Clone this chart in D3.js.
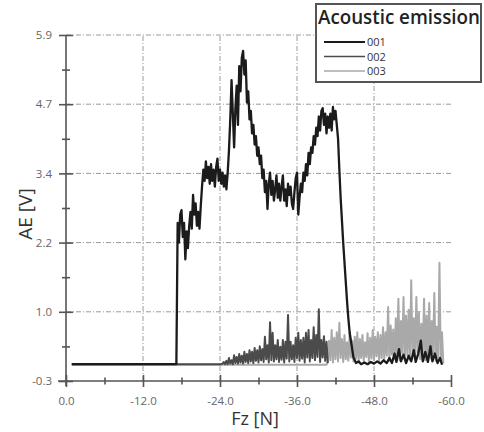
<!DOCTYPE html>
<html>
<head>
<meta charset="utf-8">
<script src="https://cdn.jsdelivr.net/npm/d3@7"></script>
<style>
  html, body { margin: 0; padding: 0; background: #fff; }
  svg { display: block; font-family: "Open Sans", "DejaVu Sans", sans-serif; }
</style>
</head>
<body>
<svg id="chart" width="484" height="432"></svg>
<script>
// Axis definitions
const xDomain = [0, -60];
const yDomain = [-0.27, 5.905];
const xTicks = [0, -12, -24, -36, -48, -60];
const xTickLabels = ["0.0", "-12.0", "-24.0", "-36.0", "-48.0", "-60.0"];
const xMinorTicks = [-6, -18, -30, -42, -54];
const yTicks = [-0.27, 0.965, 2.2, 3.435, 4.67, 5.905];
const yTickLabels = ["-0.3", "1.0", "2.2", "3.4", "4.7", "5.9"];
const yMinorTicks = [0.3475, 1.5825, 2.8175, 4.0525, 5.2875];

const seriesNames = ["001", "002", "003"];
const seriesColors = ["#1b1b1b", "#4b4b4b", "#a9a9a9"];
const seriesWidths = [2.3, 2, 2];

// Test 001: [Fz, AE]
const ae001 = [
  [-0.9,0.03],[-17.2,0.03],[-17.4,2.55],[-17.6,2.2],[-17.8,2.7],[-18.0,2.78],[-18.2,2.3],[-18.4,2.55],
  [-18.6,1.9],[-18.8,2.4],[-19.0,2.1],[-19.2,2.5],[-19.4,2.75],[-19.6,2.45],[-19.8,3.05],[-20.0,2.7],
  [-20.2,2.9],[-20.4,2.5],[-20.6,2.75],[-20.8,2.45],[-21.0,2.85],[-21.2,3.2],[-21.4,3.5],[-21.6,3.3],
  [-21.8,3.65],[-22.0,3.35],[-22.2,3.55],[-22.4,3.25],[-22.6,3.6],[-22.8,3.3],[-23.0,3.5],[-23.2,3.2],
  [-23.4,3.55],[-23.6,3.7],[-23.8,3.3],[-24.0,3.5],[-24.2,3.25],[-24.4,3.45],[-24.6,3.2],[-24.8,3.4],
  [-25.0,3.15],[-25.2,3.45],[-25.4,3.85],[-25.6,4.4],[-25.8,5.1],[-26.0,4.5],[-26.2,3.9],[-26.4,4.6],
  [-26.6,5.0],[-26.8,4.3],[-27.0,5.35],[-27.2,4.9],[-27.4,5.5],[-27.6,5.62],[-27.8,5.2],[-28.0,5.45],
  [-28.2,4.7],[-28.4,4.9],[-28.6,4.4],[-28.8,4.55],[-29.0,4.15],[-29.2,4.3],[-29.4,3.95],[-29.6,4.1],
  [-29.8,3.75],[-30.0,3.9],[-30.2,3.6],[-30.4,3.75],[-30.6,3.35],[-30.8,3.5],[-31.0,3.1],[-31.2,3.3],
  [-31.4,2.8],[-31.6,3.25],[-31.8,3.45],[-32.0,3.05],[-32.2,3.3],[-32.4,2.95],[-32.6,3.15],[-32.8,3.4],
  [-33.0,3.0],[-33.2,3.25],[-33.4,2.95],[-33.6,3.2],[-33.8,3.4],[-34.0,2.95],[-34.2,3.15],[-34.4,2.85],
  [-34.6,3.25],[-34.8,3.05],[-35.0,3.2],[-35.2,2.9],[-35.4,2.8],[-35.6,3.1],[-35.8,3.35],[-36.0,3.45],
  [-36.2,2.7],[-36.4,3.0],[-36.6,3.25],[-36.8,3.1],[-37.0,3.45],[-37.2,3.3],[-37.4,3.6],[-37.6,3.4],
  [-37.8,3.8],[-38.0,3.6],[-38.2,3.9],[-38.4,3.8],[-38.6,4.1],[-38.8,3.95],[-39.0,4.25],[-39.2,4.1],
  [-39.4,4.45],[-39.6,4.2],[-39.8,4.55],[-40.0,4.6],[-40.2,4.3],[-40.4,4.5],[-40.6,4.15],[-40.8,4.45],
  [-41.0,4.25],[-41.2,4.5],[-41.4,4.2],[-41.6,4.62],[-41.8,4.4],[-42.0,4.55],[-42.2,4.3],[-42.4,4.05],
  [-42.6,3.5],[-42.8,3.0],[-43.0,2.6],[-43.2,2.2],[-43.4,1.85],[-43.6,1.5],[-43.8,1.15],[-44.0,0.85],
  [-44.2,0.6],[-44.4,0.45],[-44.6,0.3],[-44.8,0.15],[-45.2,0.05],[-45.6,0.08],[-46.0,0.03],[-46.5,0.06],
  [-47.0,0.03],[-47.5,0.07],[-48.0,0.04],[-48.5,0.08],[-49.0,0.04],[-49.5,0.1],[-50.0,0.05],[-50.4,0.14],
  [-50.8,0.05],[-51.2,0.22],[-51.5,0.07],[-51.9,0.3],[-52.2,0.08],[-52.6,0.2],[-53.0,0.05],[-53.4,0.18],
  [-53.8,0.08],[-54.2,0.28],[-54.5,0.07],[-54.9,0.22],[-55.3,0.45],[-55.6,0.08],[-56.0,0.25],[-56.4,0.07],
  [-56.8,0.35],[-57.1,0.08],[-57.5,0.22],[-57.9,0.05],[-58.3,0.14],[-58.6,0.02]
];

// Test 002: [Fz, AE]
const ae002 = [
  [-0.9,0.03],[-24.2,0.03],[-24.4,0.04],[-24.6,0.07],[-24.8,0.03],[-25.0,0.09],[-25.2,0.03],[-25.4,0.14],
  [-25.6,0.04],[-25.8,0.1],[-26.0,0.03],[-26.2,0.19],[-26.4,0.05],[-26.6,0.16],[-26.8,0.04],[-27.0,0.21],
  [-27.2,0.06],[-27.4,0.18],[-27.6,0.04],[-27.8,0.25],[-28.0,0.07],[-28.2,0.21],[-28.4,0.05],[-28.6,0.28],
  [-28.8,0.08],[-29.0,0.25],[-29.2,0.05],[-29.4,0.32],[-29.6,0.09],[-29.8,0.28],[-30.0,0.06],[-30.2,0.35],
  [-30.4,0.1],[-30.6,0.3],[-30.8,0.07],[-31.0,0.52],[-31.2,0.12],[-31.4,0.37],[-31.6,0.06],[-31.8,0.78],
  [-32.0,0.1],[-32.2,0.59],[-32.4,0.08],[-32.6,0.37],[-32.8,0.12],[-33.0,0.46],[-33.2,0.07],[-33.4,0.34],
  [-33.6,0.11],[-33.8,0.46],[-34.0,0.06],[-34.2,0.43],[-34.4,0.13],[-34.6,0.91],[-34.8,0.08],[-35.0,0.43],
  [-35.2,0.12],[-35.4,0.37],[-35.6,0.07],[-35.8,0.5],[-36.0,0.14],[-36.2,0.59],[-36.4,0.09],[-36.6,0.46],
  [-36.8,0.13],[-37.0,0.5],[-37.2,0.06],[-37.4,0.59],[-37.6,0.15],[-37.8,0.64],[-38.0,0.08],[-38.2,0.46],
  [-38.4,0.14],[-38.6,0.69],[-38.8,0.1],[-39.0,0.55],[-39.2,0.16],[-39.4,1.01],[-39.6,0.07],[-39.8,0.46],
  [-40.0,0.15],[-40.2,0.53],[-40.4,0.09],[-40.6,0.43],[-40.8,0.05]
];

// Test 003: [Fz, AE]
const ae003 = [
  [-0.9,0.02],[-40.6,0.02],[-40.8,0.08],[-41.0,0.45],[-41.2,0.1],[-41.4,0.64],[-41.6,0.06],[-41.8,0.5],
  [-42.0,0.12],[-42.2,0.6],[-42.4,0.08],[-42.6,0.77],[-42.8,0.14],[-43.0,0.48],[-43.2,0.07],[-43.4,0.55],
  [-43.6,0.12],[-43.8,0.42],[-44.0,0.09],[-44.2,0.58],[-44.4,0.15],[-44.6,0.45],[-44.8,0.08],[-45.0,0.52],
  [-45.2,0.13],[-45.4,0.6],[-45.6,0.06],[-45.8,0.48],[-46.0,0.14],[-46.2,0.55],[-46.4,0.09],[-46.6,0.42],
  [-46.8,0.16],[-47.0,0.58],[-47.2,0.07],[-47.4,0.5],[-47.6,0.13],[-47.8,0.64],[-48.0,0.1],[-48.2,0.52],
  [-48.4,0.17],[-48.6,0.6],[-48.8,0.08],[-49.0,0.55],[-49.2,0.14],[-49.4,0.69],[-49.6,0.11],[-49.8,0.6],
  [-50.0,0.18],[-50.2,1.05],[-50.4,0.09],[-50.6,0.72],[-50.8,0.2],[-51.0,0.65],[-51.2,0.12],[-51.4,0.85],
  [-51.6,0.16],[-51.8,1.2],[-52.0,0.1],[-52.2,0.8],[-52.4,0.22],[-52.6,1.23],[-52.8,0.13],[-53.0,0.9],
  [-53.2,0.19],[-53.4,1.0],[-53.6,0.11],[-53.8,1.53],[-54.0,0.2],[-54.2,0.85],[-54.4,0.14],[-54.6,1.23],
  [-54.8,0.24],[-55.0,0.95],[-55.2,0.12],[-55.4,0.75],[-55.6,0.21],[-55.8,1.2],[-56.0,0.1],[-56.2,0.9],
  [-56.4,0.18],[-56.6,1.12],[-56.8,0.13],[-57.0,0.8],[-57.2,0.22],[-57.4,1.3],[-57.6,0.09],[-57.8,0.7],
  [-58.0,0.15],[-58.2,1.84],[-58.4,0.08],[-58.6,0.6],[-58.8,0.04]
];

const svg = d3.select("#chart");
const x = d3.scaleLinear().domain(xDomain).range([66, 451]);
const y = d3.scaleLinear().domain(yDomain).range([381, 35]);

const axisColor = "#555";
const labelColor = "#666";

// Grid (dash-dot)
const grid = svg.append("g").attr("stroke", "#9a9a9a").attr("stroke-width", 1)
  .attr("stroke-dasharray", "5,2,1,2");
grid.selectAll("line.gx").data(xTicks.slice(1, -1)).join("line")
  .attr("x1", d => x(d)).attr("x2", d => x(d))
  .attr("y1", y(yDomain[0])).attr("y2", y(yDomain[1]));
grid.selectAll("line.gy").data(yTicks.slice(1)).join("line")
  .attr("y1", d => y(d)).attr("y2", d => y(d))
  .attr("x1", x(xDomain[0])).attr("x2", x(xDomain[1]));

// Data lines, drawn back to front
const line = d3.line().x(d => x(d[0])).y(d => y(d[1]));
const plotted = [ae003, ae002, ae001];
const order = [2, 1, 0];
order.forEach((si, k) => {
  svg.append("path")
    .datum(plotted[k])
    .attr("fill", "none")
    .attr("stroke", seriesColors[si])
    .attr("stroke-width", seriesWidths[si])
    .attr("stroke-linejoin", "round")
    .attr("d", line);
});

// Axes
const xAxis = d3.axisBottom(x).tickValues(xTicks)
  .tickFormat((d, i) => xTickLabels[i]).tickSizeInner(6).tickSizeOuter(0).tickPadding(10);
const gx = svg.append("g").attr("transform", `translate(0,${y(yDomain[0])})`).call(xAxis);
gx.select(".domain").attr("d", `M${x(0) - 8},0H${x(-60)}`);
gx.selectAll(".tick line").attr("y1", -6);

const xMinor = d3.axisBottom(x).tickValues(xMinorTicks).tickFormat("").tickSizeInner(3.5).tickSizeOuter(0);
const gxm = svg.append("g").attr("transform", `translate(0,${y(yDomain[0])})`).call(xMinor);
gxm.select(".domain").remove();
gxm.selectAll(".tick line").attr("y1", -3.5);

const yAxis = d3.axisLeft(y).tickValues(yTicks)
  .tickFormat((d, i) => yTickLabels[i]).tickSizeInner(7).tickSizeOuter(0).tickPadding(7);
const gy = svg.append("g").attr("transform", `translate(${x(0)},0)`).call(yAxis);
gy.select(".domain").attr("d", `M0,${y(yDomain[1])}V${y(yDomain[0]) + 5}`);
gy.selectAll(".tick line").attr("x1", 7);

const yMinor = d3.axisLeft(y).tickValues(yMinorTicks).tickFormat("").tickSizeInner(4).tickSizeOuter(0);
const gym = svg.append("g").attr("transform", `translate(${x(0)},0)`).call(yMinor);
gym.select(".domain").remove();
gym.selectAll(".tick line").attr("x1", 4);

[gx, gxm, gy, gym].forEach(g => {
  g.selectAll(".domain, .tick line").attr("stroke", axisColor).attr("stroke-width", 1.6);
  g.selectAll(".tick text").attr("fill", labelColor)
    .style("font-size", "11.5px").style("font-family", "'Open Sans', sans-serif");
});

// Axis titles
svg.append("text")
  .attr("x", 255).attr("y", 425)
  .attr("text-anchor", "middle")
  .attr("fill", "#333").style("font-size", "18px")
  .text("Fz [N]");
svg.append("text")
  .attr("transform", "translate(32,214) rotate(-90)")
  .attr("text-anchor", "middle")
  .attr("fill", "#333").style("font-size", "19px")
  .text("AE [V]");

// Legend
const lg = svg.append("g");
lg.append("rect")
  .attr("x", 316).attr("y", 4).attr("width", 165).attr("height", 78)
  .attr("fill", "#fff").attr("stroke", "#555").attr("stroke-width", 2);
lg.append("text")
  .attr("x", 318).attr("y", 24)
  .attr("fill", "#222").style("font-size", "19px").style("font-weight", 600)
  .attr("textLength", 162).attr("lengthAdjust", "spacingAndGlyphs")
  .text("Acoustic emission");
seriesNames.forEach((name, i) => {
  const ly = 42 + i * 14.5;
  lg.append("line")
    .attr("x1", 324).attr("x2", 365).attr("y1", ly).attr("y2", ly)
    .attr("stroke", seriesColors[i]).attr("stroke-width", i === 0 ? 2 : 1.6);
  lg.append("text")
    .attr("x", 367).attr("y", ly + 4)
    .attr("fill", "#333").style("font-size", "11px")
    .text(name);
});
</script>
</body>
</html>
